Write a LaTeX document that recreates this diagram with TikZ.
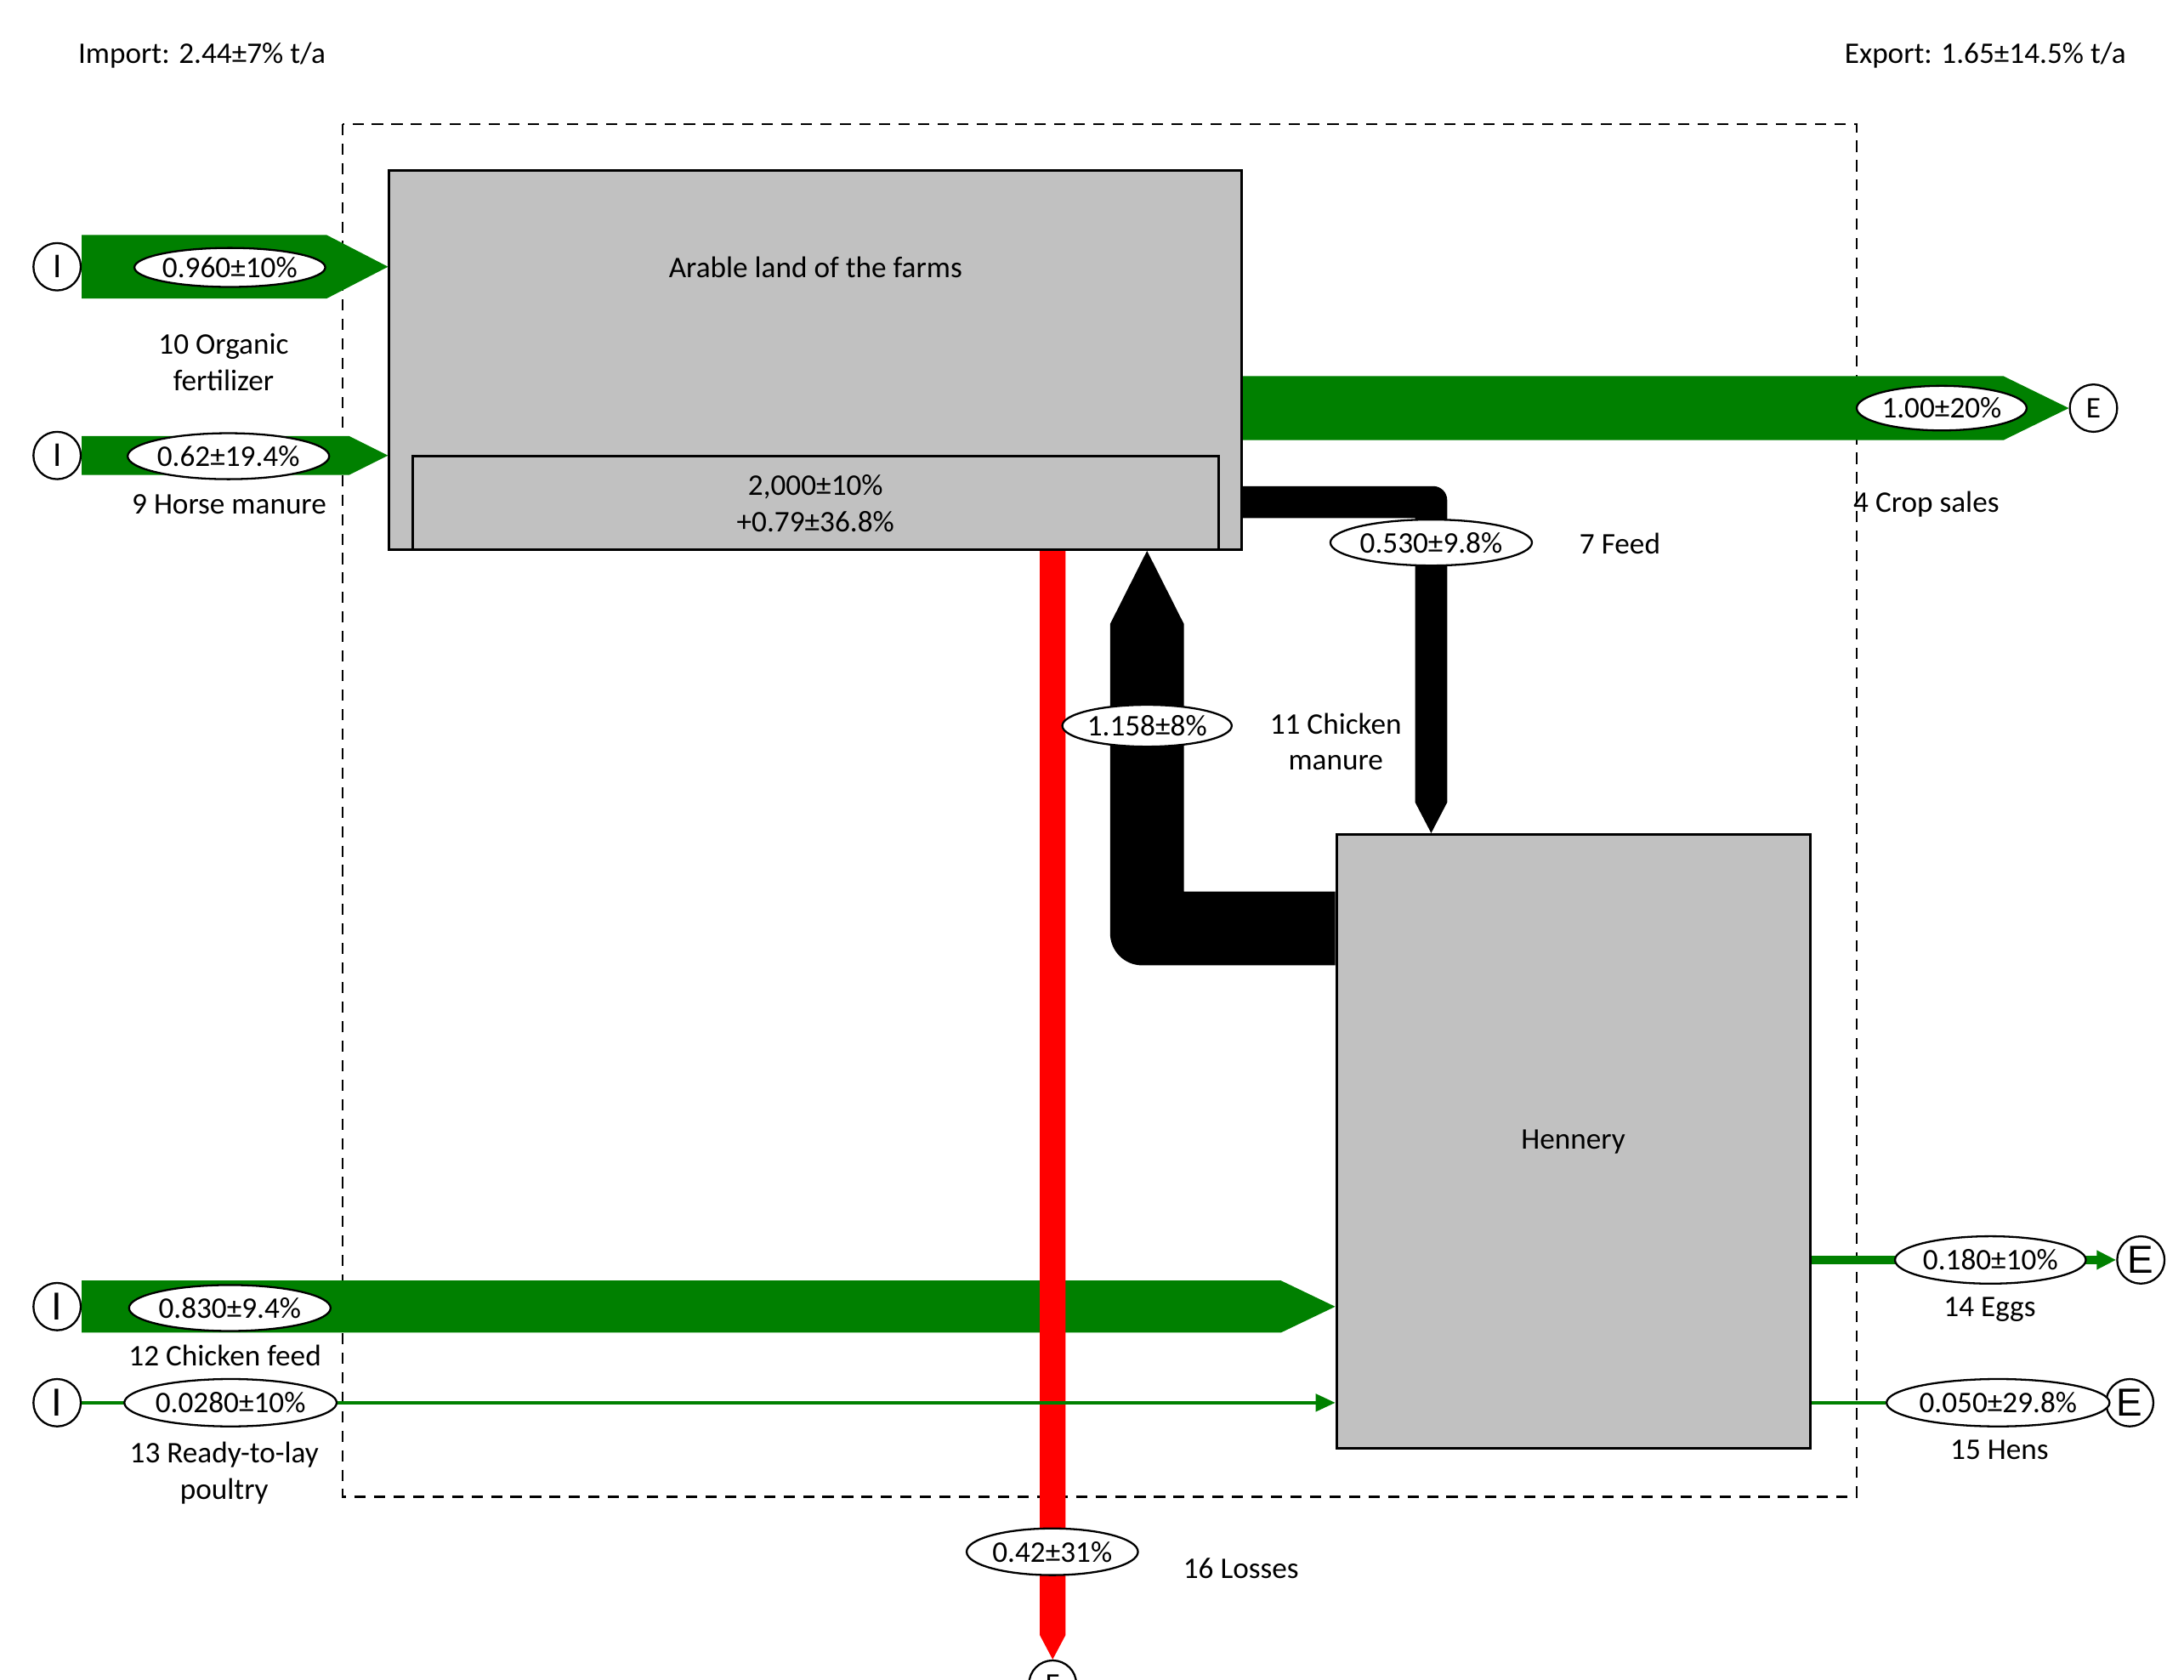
\documentclass[tikz,border=0pt]{standalone}
\usepackage{fontspec}
\setmainfont{Carlito}
\newfontfamily\arialfont{Liberation Sans}
\usetikzlibrary{shapes.geometric,arrows.meta,calc}
\pgfdeclarelayer{dashlayer}
\pgfdeclarelayer{flowlayer}
\pgfsetlayers{dashlayer,flowlayer,main}
\definecolor{flowgreen}{RGB}{0,128,0}
\definecolor{boxgray}{RGB}{193,193,193}
\definecolor{lossred}{RGB}{255,0,0}
% #1 style, #2 start point, #3 tip point, #4 half width, #5 head length
\newcommand{\flowband}[5]{\fill[#1] ($(#2)+(0,-#4)$) -- ($(#3)+(-#5,-#4)$) -- (#3) -- ($(#3)+(-#5,#4)$) -- ($(#2)+(0,#4)$) -- cycle;}
\begin{document}
\begin{tikzpicture}[x=1pt,y=-1pt,
  font=\fontsize{21.5pt}{26pt}\selectfont,
  procbox/.style={rectangle, draw, fill=boxgray, line width=1.8pt, inner sep=0pt},
  lbl/.style={ellipse, draw, fill=white, line width=1.4pt, inner sep=0pt},
  ioc/.style={circle, draw, fill=white, line width=1.4pt, minimum size=34pt, inner sep=0pt},
  bigletter/.style={font=\arialfont\fontsize{28pt}{30pt}\selectfont},
  midletter/.style={font=\fontsize{25pt}{28pt}\selectfont},
  txt/.style={align=center, inner sep=0pt},
  greenflow/.style={fill=flowgreen},
  blackflow/.style={fill=black},
  redflow/.style={fill=lossred}]
\useasboundingbox (0,0) rectangle (1568,1206);

% headline texts
\node[txt, anchor=west] (import) at (56,39.5) {Import: 2.44±7\% t/a};
\node[txt, anchor=east] (export) at (1526.5,39.5) {Export: 1.65±14.5\% t/a};

% processes
\node[procbox, minimum width=612pt, minimum height=272pt] (arable) at (585.5,258.5) {};
\node[txt] (arabletxt) at (585.5,192) {Arable land of the farms};
\node[procbox, minimum width=578.5pt, minimum height=67pt, anchor=south] (stock) at (arable.south) {};
\node[txt] (stocktxt) at (585.5,361.5) {2,000±10\%\\+0.79±36.8\%};
\node[procbox, minimum width=340pt, minimum height=441pt] (hen) at (1129.5,819.5) {Hennery};

% import / export circles
\node[ioc, midletter] (i10) at (41,191.5) {I};
\node[ioc, midletter] (i9) at (41,327) {I};
\node[ioc, bigletter] (i12) at (41,938) {I};
\node[ioc, bigletter] (i13) at (41,1007) {I};
\node[ioc] (e4) at (1503,293) {E};
\node[ioc, bigletter] (e14) at (1537,904.5) {E};
\node[ioc, bigletter] (e15) at (1529,1007) {E};
\node[ioc] (e16) at (755.75,1209) {E};

% flow value ellipses
\node[lbl, minimum width=134pt, minimum height=28pt] (l10) at (165,192) {0.960±10\%};
\node[lbl, minimum width=138pt, minimum height=33pt] (l9) at (164,327.5) {0.62±19.4\%};
\node[lbl, minimum width=122pt, minimum height=32pt] (l4) at (1394,293) {1.00±20\%};
\node[lbl, minimum width=137.5pt, minimum height=33pt] (l7) at (1027.5,389.5) {0.530±9.8\%};
\node[lbl, minimum width=119pt, minimum height=30pt] (l11) at (823.5,521) {1.158±8\%};
\node[lbl, minimum width=123pt, minimum height=33.5pt] (l16) at (755.5,1114) {0.42±31\%};
\node[lbl, minimum width=137pt, minimum height=33pt] (l12) at (165,939) {0.830±9.4\%};
\node[lbl, minimum width=144pt, minimum height=34pt] (l13) at (165.5,1007) {0.0280±10\%};
\node[lbl, minimum width=133pt, minimum height=34pt] (l14) at (1429,904.5) {0.180±10\%};
\node[lbl, minimum width=150pt, minimum height=34pt] (l15) at (1434.5,1007) {0.050±29.8\%};

% flow names
\node[txt] (n10) at (160.5,260) {10 Organic\\fertilizer};
\node[txt] (n9) at (164.5,362) {9 Horse manure};
\node[txt] (n4) at (1383,362) {4 Crop sales};
\node[txt] (n7) at (1163,390) {7 Feed};
\node[txt] (n11) at (959,532.5) {11 Chicken\\manure};
\node[txt] (n16) at (891,1126) {16 Losses};
\node[txt] (n12) at (161.5,973) {12 Chicken feed};
\node[txt] (n13) at (161,1057.5) {13 Ready-to-lay\\poultry};
\node[txt] (n14) at (1428.5,940) {14 Eggs};
\node[txt] (n15) at (1435.5,1041) {15 Hens};

% system boundary
\begin{pgfonlayer}{dashlayer}
\draw[line width=1.4pt, dash pattern=on 8pt off 6pt] (246,89) rectangle (1333,1074.5);
\end{pgfonlayer}

% flows
\begin{pgfonlayer}{flowlayer}
\coordinate (t10) at (arable.west |- i10);
\coordinate (t9) at (arable.west |- i9);
\coordinate (s4) at (arable.east |- e4);
\coordinate (t12) at (hen.west |- i12);
\flowband{greenflow}{i10.east}{t10}{22.75}{44}
\flowband{greenflow}{i9.east}{t9}{14}{28}
\flowband{greenflow}{s4}{e4.west}{23}{47}
\flowband{greenflow}{i12.east}{t12}{18.7}{39}

% 7 Feed: arable -> hennery
\coordinate (t7) at (l7 |- hen.north);
\fill[blackflow] (arable.east |- 0,349) -- (1029,349)
  .. controls (1034.5,349) and (1039,353.5) .. (1039,359)
  -- (1039,576) -- (t7) -- (1016,576) -- (1016,372) -- (arable.east |- 0,372) -- cycle;

% 11 Chicken manure: hennery -> arable
\coordinate (t11) at (l11 |- arable.south);
\fill[blackflow] (hen.west |- 0,640) -- (850,640) -- (850,448) -- (t11) -- (797,448)
  -- (797,670) .. controls (797,682.7) and (807.3,693) .. (820,693)
  -- (hen.west |- 0,693) -- cycle;

% 16 Losses
\coordinate (s16) at (e16 |- arable.south);
\fill[redflow] ($(s16)+(-9.25,0)$) -- ($(s16)+(9.25,0)$) -- ($(e16.north)+(9.25,-17.5)$)
  -- (e16.north) -- ($(e16.north)+(-9.25,-17.5)$) -- cycle;

% 13 Ready-to-lay poultry
\draw[flowgreen, line width=2pt, -{Triangle[length=14pt,width=12.5pt]}] (i13.east) -- (hen.west |- i13);
% 14 Eggs
\draw[flowgreen, line width=6.5pt] (hen.east |- l14) -- (l14.east);
\draw[flowgreen, line width=6.5pt, -{Triangle[length=14pt,width=13pt]}] (l14.east) -- (e14.west);
% 15 Hens
\draw[flowgreen, line width=2.2pt] (hen.east |- l15) -- (l15.west);
\end{pgfonlayer}
\end{tikzpicture}
\end{document}
